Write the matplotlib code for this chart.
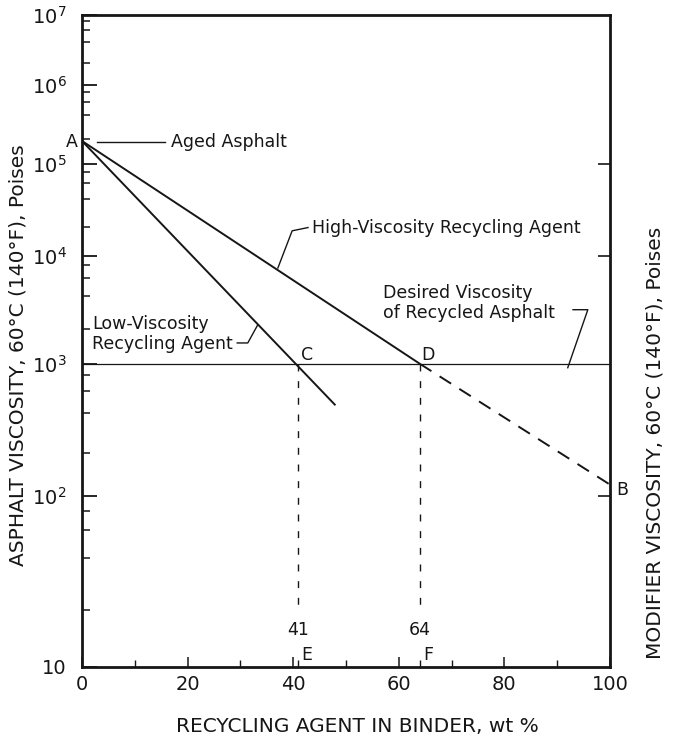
import numpy as np
import matplotlib
matplotlib.use("Agg")
import matplotlib.pyplot as plt

# values (x = wt % recycling agent, y = viscosity in poises)
high_x = [0, 64]
high_visc = [1.9e5, 1000]
high_ext_x = [64, 100]
high_ext_visc = [1000, 120]
low_x = [0, 48]
low_visc = [1.9e5, 460]
desired_visc = 1000
blend_pct = [41, 64]
blend_labels = ["41", "64"]
blend_letters = ["E", "F"]
drop_to = 19

y_major = [10, 1e2, 1e3, 1e4, 1e5, 1e6, 1e7]
y_major_labels = ["10", r"$10^{2}$", r"$10^{3}$", r"$10^{4}$",
                  r"$10^{5}$", r"$10^{6}$", r"$10^{7}$"]
y_minor = [m * 10.0 ** k for k in range(1, 7) for m in (2, 4, 6, 8)]
x_major = [0, 20, 40, 60, 80, 100]
x_minor = [10, 30, 41, 50, 64, 70, 90]
right_ticks = [1e2, 1e4, 1e5]

INK = "#161616"


# the chart's viscosity axis is not a plain log scale: it is linear in ln(log10(v) + 2)
def fwd(v):
    v = np.asarray(v, dtype=float)
    return np.log(np.log10(np.clip(v, 1e-3, None)) + 2)


def inv(y):
    return 10 ** (np.exp(y) - 2)


plt.rcParams["font.family"] = "DejaVu Sans"
plt.rcParams["mathtext.fontset"] = "dejavusans"

fig = plt.figure(figsize=(6.73, 7.41), dpi=100)
ax = fig.add_axes([82 / 673, 1 - 667 / 741, 528 / 673, 652 / 741])
ax.set_yscale("function", functions=(fwd, inv))
ax.set_xlim(0, 100)
ax.set_ylim(10, 1e7)

# lines
ax.plot(high_x, high_visc, color=INK, lw=1.4, solid_capstyle="butt")
ax.plot(high_ext_x, high_ext_visc, color=INK, lw=1.4, dashes=(7, 5))
ax.plot(low_x, low_visc, color=INK, lw=1.4, solid_capstyle="butt")
ax.axhline(desired_visc, color=INK, lw=0.9)
for xp in blend_pct:
    ax.plot([xp, xp], [desired_visc, drop_to], color=INK, lw=1.0, dashes=(5, 7))

# ticks
ax.set_yticks(y_major)
ax.set_yticklabels(y_major_labels)
ax.set_yticks(y_minor, minor=True)
ax.set_xticks(x_major)
ax.set_xticks(x_minor, minor=True)
ax.tick_params(axis="both", which="both", direction="in", top=False, right=False,
               colors=INK, labelsize=14)
ax.tick_params(axis="y", which="major", length=11, width=1.3, pad=11)
ax.tick_params(axis="y", which="minor", length=6, width=1.1)
ax.tick_params(axis="x", which="major", length=7, width=1.1, pad=6)
ax.tick_params(axis="x", which="minor", length=5, width=1.0)
for sp in ax.spines.values():
    sp.set_linewidth(2.0)
    sp.set_color(INK)

ax2 = ax.twinx()
ax2.set_yscale("function", functions=(fwd, inv))
ax2.set_ylim(10, 1e7)
ax2.set_yticks(right_ticks)
ax2.set_yticks([], minor=True)
ax2.set_yticklabels([])
ax2.tick_params(axis="y", direction="in", length=9, width=1.2, colors=INK)
for sp in ax2.spines.values():
    sp.set_visible(False)

# annotations
T = ax.transAxes
kw = dict(color=INK, fontsize=12.5)
ax.text(-0.019, 0.805, "A", transform=T, ha="center", va="center", clip_on=False, **kw)
ax.plot([0.028, 0.157], [0.805, 0.805], transform=T, color=INK, lw=1.0)
ax.text(0.169, 0.805, "Aged Asphalt", transform=T, ha="left", va="center", **kw)

ax.plot([0.371, 0.398, 0.428], [0.612, 0.669, 0.674], transform=T, color=INK, lw=1.0)
ax.text(0.436, 0.674, "High-Viscosity Recycling Agent", transform=T,
        ha="left", va="center", **kw)

ax.text(0.019, 0.511, "Low-Viscosity\nRecycling Agent", transform=T,
        ha="left", va="center", linespacing=1.15, **kw)
ax.plot([0.294, 0.314, 0.333], [0.497, 0.497, 0.525], transform=T, color=INK, lw=1.0)

ax.text(0.570, 0.558, "Desired Viscosity\nof Recycled Asphalt", transform=T,
        ha="left", va="center", linespacing=1.15, **kw)
ax.plot([0.930, 0.958, 0.920], [0.548, 0.548, 0.459], transform=T, color=INK, lw=1.0)

ax.text(0.426, 0.478, "C", transform=T, ha="center", va="center", **kw)
ax.text(0.655, 0.478, "D", transform=T, ha="center", va="center", **kw)
ax.text(1.023, 0.271, "B", transform=T, ha="center", va="center", clip_on=False, **kw)

bt = ax.get_xaxis_transform()
for xp, lab, let in zip(blend_pct, blend_labels, blend_letters):
    ax.text(xp, 0.057, lab, transform=bt, ha="center", va="center", **kw)
    ax.text(xp + 0.6, 0.018, let, transform=bt, ha="left", va="center", **kw)

fig.text(357 / 673, 1 - 727 / 741, "RECYCLING AGENT IN BINDER, wt %",
         ha="center", va="center", fontsize=14.5, color=INK)
fig.text(18 / 673, 1 - 355 / 741, "ASPHALT VISCOSITY, 60°C (140°F), Poises",
         ha="center", va="center", rotation=90, fontsize=14.5, color=INK)
fig.text(655 / 673, 1 - 443 / 741, "MODIFIER VISCOSITY, 60°C (140°F), Poises",
         ha="center", va="center", rotation=90, fontsize=14.5, color=INK)

fig.savefig("out.png", dpi=100)
